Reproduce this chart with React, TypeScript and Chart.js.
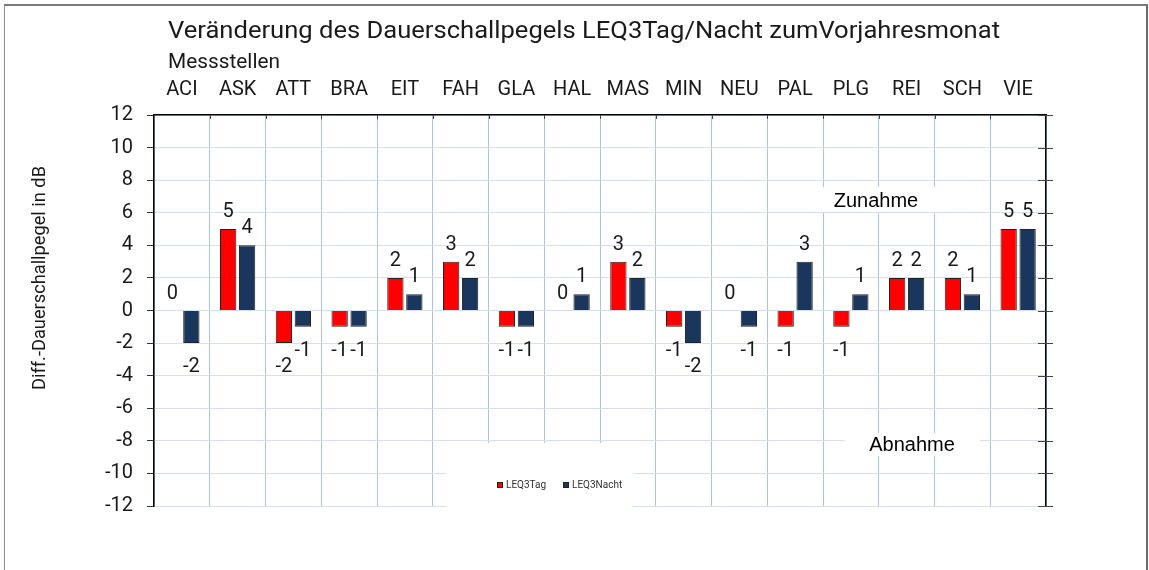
import React, { useEffect, useRef } from 'react';
import { Chart, registerables } from 'chart.js';

Chart.register(...registerables);

// ---- data ----
const categories = ['ACI', 'ASK', 'ATT', 'BRA', 'EIT', 'FAH', 'GLA', 'HAL', 'MAS', 'MIN', 'NEU', 'PAL', 'PLG', 'REI', 'SCH', 'VIE'];
const tagValues = [0, 5, -2, -1, 2, 3, -1, 0, 3, -1, 0, -1, -1, 2, 2, 5];
const nachtValues = [-2, 4, -1, -1, 1, 2, -1, 1, 2, -2, -1, 3, 1, 2, 1, 5];
const seriesNames = ['LEQ3Tag', 'LEQ3Nacht'];
const yMin = -12;
const yMax = 12;
const yStep = 2;
const titleText = 'Veränderung des Dauerschallpegels LEQ3Tag/Nacht zumVorjahresmonat';
const subtitleText = 'Messstellen';
const yTitleText = 'Diff.-Dauerschallpegel in dB';
const upText = 'Zunahme';
const downText = 'Abnahme';

// ---- styles ----
const RED = '#ff0000';
const NAVY = '#1b365d';
const FONT_MAIN = "'Liberation Sans Narrow', 'Roboto', sans-serif";
const FONT_ARIAL = "'Liberation Sans', Arial, sans-serif";
const TEXT = '#1a1a1a';

function drawText(ctx: CanvasRenderingContext2D, text: string, x: number, y: number, o: any) {
  ctx.save();
  ctx.font = `${o.size}px ${o.family}`;
  ctx.fillStyle = o.color || TEXT;
  ctx.textAlign = o.align || 'center';
  ctx.textBaseline = o.baseline || 'middle';
  let sx = 1;
  if (o.width) {
    const w = ctx.measureText(text).width;
    sx = o.width / w;
  }
  ctx.translate(x, y);
  if (o.rotate) ctx.rotate(o.rotate);
  ctx.scale(sx, 1);
  ctx.fillText(text, 0, 0);
  ctx.restore();
}

const decorPlugin = {
  id: 'decor',
  beforeDraw(chart: any) {
    const ctx = chart.ctx;
    ctx.save();
    ctx.fillStyle = '#ffffff';
    ctx.fillRect(0, 0, chart.width, chart.height);
    ctx.restore();
  },
  afterDatasetsDraw(chart: any) {
    const ctx: CanvasRenderingContext2D = chart.ctx;
    const ca = chart.chartArea;
    const x = chart.scales.x;
    const y = chart.scales.y;

    // white annotation boxes (cover gridlines)
    ctx.save();
    ctx.fillStyle = '#ffffff';
    ctx.fillRect(815, 187, 126, 25);
    ctx.fillRect(845, 433, 135, 23);
    ctx.fillRect(446, 443, 187, 67);
    ctx.restore();

    drawText(ctx, upText, 876, 201, { size: 20, family: FONT_ARIAL, color: '#000' });
    drawText(ctx, downText, 912, 445, { size: 20, family: FONT_ARIAL, color: '#000' });

    // legend
    const items = chart.data.datasets.map((d: any) => ({ label: d.label, color: d.backgroundColor }));
    const legendX = [497, 563];
    const ly = 485;
    items.forEach((it: any, i: number) => {
      ctx.save();
      ctx.fillStyle = it.color;
      ctx.strokeStyle = '#222';
      ctx.lineWidth = 1;
      ctx.fillRect(legendX[i], ly - 3, 6, 6);
      ctx.strokeRect(legendX[i] + 0.5, ly - 2.5, 5, 5);
      ctx.restore();
      drawText(ctx, it.label, legendX[i] + 9, ly, { size: 10, family: FONT_MAIN, color: '#333', align: 'left' });
    });

    // inner tick marks on top axis at category boundaries
    ctx.save();
    ctx.strokeStyle = '#444';
    ctx.lineWidth = 1;
    for (let i = 1; i < categories.length; i++) {
      const px = Math.round((x.getPixelForValue(i - 1) + x.getPixelForValue(i)) / 2) + 0.5;
      ctx.beginPath();
      ctx.moveTo(px, ca.top);
      ctx.lineTo(px, ca.top + 4);
      ctx.stroke();
    }
    // right axis crossing ticks
    for (let v = yMin; v <= yMax; v += yStep) {
      const py = Math.round(y.getPixelForValue(v)) + 0.5;
      ctx.beginPath();
      ctx.moveTo(ca.right - 8, py);
      ctx.lineTo(ca.right + 7, py);
      ctx.stroke();
    }
    ctx.restore();

    // data labels
    chart.data.datasets.forEach((ds: any, di: number) => {
      const meta = chart.getDatasetMeta(di);
      meta.data.forEach((el: any, i: number) => {
        const v = ds.data[i];
        const ty = v >= 0 ? el.y - 17 : el.y + 24;
        drawText(ctx, String(v), el.x, ty, { size: 20, family: FONT_MAIN, color: TEXT });
      });
    });

    // titles
    drawText(ctx, titleText, 584, 32, { size: 24, family: FONT_MAIN, color: TEXT, width: 832 });
    drawText(ctx, subtitleText, ca.left + 14, 63, { size: 21, family: FONT_MAIN, color: TEXT, align: 'left', width: 112 });
    drawText(ctx, yTitleText, 40, 278, { size: 19, family: FONT_MAIN, color: TEXT, rotate: -Math.PI / 2, width: 224 });
  },
};

export default function App() {
  const ref = useRef<HTMLCanvasElement | null>(null);

  useEffect(() => {
    if (!ref.current) return;
    const chart = new Chart(ref.current, {
      type: 'bar',
      data: {
        labels: categories,
        datasets: [
          {
            label: seriesNames[0],
            data: tagValues,
            backgroundColor: RED,
            borderColor: '#222222',
            borderWidth: (c: any) => (c.raw === 0 ? 0 : 1),
            categoryPercentage: 0.68,
            barPercentage: 0.86,
            xAxisID: 'x',
            yAxisID: 'y',
          },
          {
            label: seriesNames[1],
            data: nachtValues,
            backgroundColor: NAVY,
            borderColor: '#222222',
            borderWidth: (c: any) => (c.raw === 0 ? 0 : 1),
            categoryPercentage: 0.68,
            barPercentage: 0.86,
            xAxisID: 'x',
            yAxisID: 'y',
          },
        ],
      } as any,
      options: {
        responsive: false,
        animation: false,
        devicePixelRatio: 1,
        layout: { padding: { left: 0, right: 0, top: 0, bottom: 64 } },
        plugins: {
          legend: { display: false },
          title: { display: false },
          tooltip: { enabled: false },
        },
        scales: {
          x: {
            position: 'top',
            grid: { offset: true, color: '#a9c3e9', lineWidth: 1, drawTicks: false },
            border: { display: true, color: '#000000', width: 1.5 },
            ticks: { font: { family: FONT_MAIN, size: 20 }, color: TEXT, padding: 13, maxRotation: 0 },
            afterFit: (s: any) => {
              s.height = 115;
            },
          },
          y: {
            position: 'left',
            min: yMin,
            max: yMax,
            ticks: { stepSize: yStep, font: { family: FONT_MAIN, size: 20 }, color: TEXT, padding: 14 },
            grid: { color: '#d3e0f4', lineWidth: 1, tickLength: 7, tickColor: '#333333' },
            border: { display: true, color: '#000000', width: 1.5 },
            afterFit: (s: any) => {
              s.width = 154;
            },
          },
          y2: {
            position: 'right',
            min: yMin,
            max: yMax,
            ticks: { display: false, stepSize: yStep },
            grid: { drawOnChartArea: false, drawTicks: false },
            border: { display: true, color: '#000000', width: 1.5 },
            afterFit: (s: any) => {
              s.width = 103;
            },
          },
        },
      } as any,
      plugins: [decorPlugin],
    });
    return () => chart.destroy();
  }, []);

  return (
    <div style={{ position: 'fixed', left: 0, top: 0, width: 1149, height: 570, background: '#fff' }}>
      <canvas ref={ref} width={1149} height={570} style={{ position: 'absolute', left: 0, top: 0, width: 1149, height: 570 }} />
      <div
        style={{
          position: 'absolute',
          left: 4,
          top: 4,
          width: 1141,
          height: 600,
          borderTop: '2px solid #7a7a7a',
          borderLeft: '1px solid #8a8a8a',
          borderRight: '2px solid #6a6a6a',
          pointerEvents: 'none',
        }}
      />
    </div>
  );
}
